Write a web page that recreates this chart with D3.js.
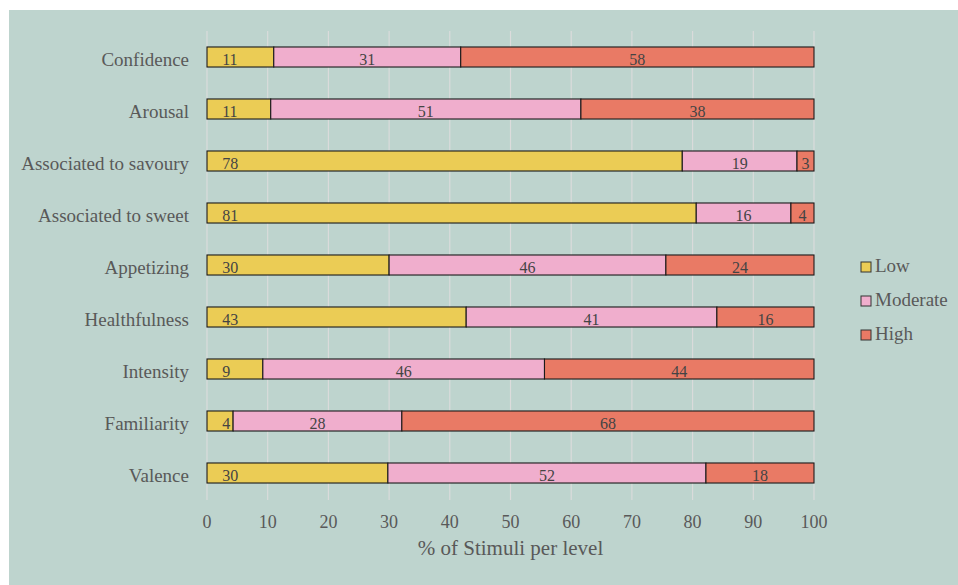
<!DOCTYPE html>
<html>
<head>
<meta charset="utf-8">
<script src="https://cdn.jsdelivr.net/npm/d3@7"></script>
<style>
  html, body { margin: 0; padding: 0; background: #ffffff; }
  svg { display: block; }
  text { font-family: "Liberation Serif", "Times New Roman", serif; }
</style>
</head>
<body>
<svg id="chart" width="958" height="585"></svg>
<script>
// ---- data ----
const categories = ["Confidence", "Arousal", "Associated to savoury", "Associated to sweet",
  "Appetizing", "Healthfulness", "Intensity", "Familiarity", "Valence"];
const levels = ["Low", "Moderate", "High"];
const lowValues      = [11.0, 10.5, 78.3, 80.6, 30.0, 42.7,  9.2,  4.3, 29.8];
const moderateValues = [30.8, 51.1, 18.9, 15.6, 45.6, 41.3, 46.4, 27.8, 52.4];
const highValues     = [58.2, 38.4,  2.8,  3.8, 24.4, 16.0, 44.4, 67.9, 17.8];
const xTicks = [0, 10, 20, 30, 40, 50, 60, 70, 80, 90, 100];
const levelColors = ["#ebcc55", "#f0aecd", "#e97a65"];

// ---- layout ----
const svg = d3.select("#chart");
const W = 958, H = 585;
svg.append("rect").attr("x", 9).attr("y", 10).attr("width", W - 9).attr("height", H - 10)
  .attr("fill", "#bed4ce");

const x = d3.scaleLinear().domain([0, 100]).range([207, 814]);
const y = d3.scaleBand().domain(categories).range([31, 499]).paddingInner(0.615).paddingOuter(0.3075);
const color = d3.scaleOrdinal().domain(levels).range(levelColors);

const rows = categories.map((c, i) => ({ cat: c, Low: lowValues[i], Moderate: moderateValues[i], High: highValues[i] }));
const stacked = d3.stack().keys(levels)(rows);

// gridlines
svg.append("g").selectAll("line").data(xTicks).join("line")
  .attr("x1", d => x(d)).attr("x2", d => x(d))
  .attr("y1", 31).attr("y2", 500)
  .attr("stroke", "#dcdcdc").attr("stroke-width", 1.1);

// bars
const gBars = svg.append("g");
stacked.forEach(layer => {
  gBars.append("g").selectAll("rect").data(layer).join("rect")
    .attr("x", d => x(d[0]))
    .attr("width", d => x(d[1]) - x(d[0]))
    .attr("y", d => y(d.data.cat))
    .attr("height", y.bandwidth())
    .attr("fill", color(layer.key))
    .attr("stroke", "#1a1a1a").attr("stroke-width", 1.1);
});

// value labels
const gLab = svg.append("g").attr("font-size", 16).attr("fill", "#444444");
stacked.forEach(layer => {
  gLab.append("g").selectAll("text").data(layer).join("text")
    .attr("x", d => layer.key === "Low" ? x(2.5) : x((d[0] + d[1]) / 2))
    .attr("y", d => y(d.data.cat) + y.bandwidth() / 2)
    .attr("dy", "0.52em")
    .attr("text-anchor", layer.key === "Low" ? "start" : "middle")
    .text(d => Math.round(d[1] - d[0]));
});

// category labels
svg.append("g").selectAll("text").data(categories).join("text")
  .attr("x", 189)
  .attr("y", d => y(d) + y.bandwidth() / 2)
  .attr("dy", "0.48em")
  .attr("text-anchor", "end")
  .attr("font-size", 19)
  .attr("fill", "#595959")
  .text(d => d);

// x tick labels
svg.append("g").selectAll("text").data(xTicks).join("text")
  .attr("x", d => x(d))
  .attr("y", 528)
  .attr("text-anchor", "middle")
  .attr("font-size", 18)
  .attr("fill", "#595959")
  .text(d => d);

// axis title
svg.append("text")
  .attr("x", (x(0) + x(100)) / 2)
  .attr("y", 555)
  .attr("text-anchor", "middle")
  .attr("font-size", 21)
  .attr("fill", "#595959")
  .text("% of Stimuli per level");

// legend
const legend = svg.append("g").selectAll("g").data(levels).join("g")
  .attr("transform", (d, i) => `translate(861, ${262 + i * 34})`);
legend.append("rect").attr("width", 10).attr("height", 10)
  .attr("fill", d => color(d)).attr("stroke", "#333333").attr("stroke-width", 1);
legend.append("text").attr("x", 14).attr("y", 10)
  .attr("font-size", 19).attr("fill", "#595959").text(d => d);
</script>
</body>
</html>
